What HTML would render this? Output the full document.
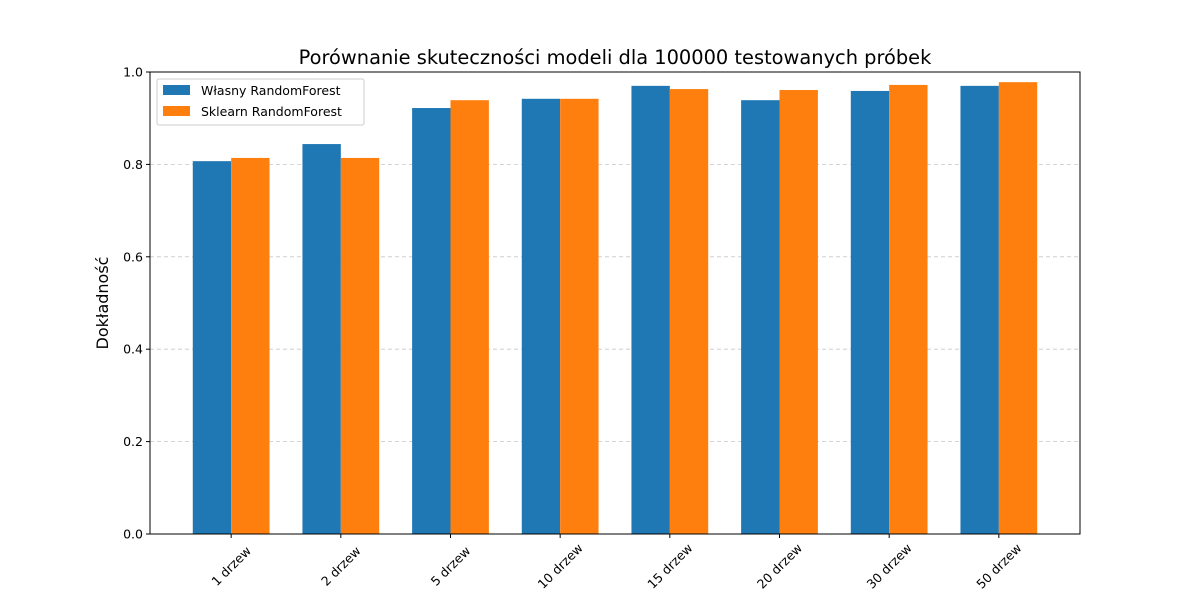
<!DOCTYPE html>
<html><head><meta charset="utf-8"><style>body{margin:0;background:#fff}svg{display:block;font-family:"DejaVu Sans","Liberation Sans",sans-serif}</style></head>
<body>
<svg id="chart" width="1200" height="600" xmlns="http://www.w3.org/2000/svg">
<text x="615" y="64" text-anchor="middle" font-size="19.4">Porównanie skuteczności modeli dla 100000 testowanych próbek</text>
<g id="grid"></g><g id="bars"></g><g id="axes"></g>
<text transform="translate(108,303) rotate(-90)" text-anchor="middle" font-size="16">Dokładność</text>
<g>
<rect x="157" y="79" width="207" height="46" fill="#fff" stroke="#ccc" rx="2"/>
<rect x="163" y="85" width="27" height="10" fill="#1f77b4"/>
<text x="201" y="95" font-size="12.5">Własny RandomForest</text>
<rect x="163" y="106" width="27" height="10" fill="#ff7f0e"/>
<text x="201" y="116" font-size="12.5">Sklearn RandomForest</text>
</g>
</svg>
<script>
const categories=["1 drzew","2 drzew","5 drzew","10 drzew","15 drzew","20 drzew","30 drzew","50 drzew"];
const ownValues=[0.807,0.844,0.922,0.942,0.970,0.939,0.959,0.970];
const sklearnValues=[0.814,0.814,0.939,0.942,0.963,0.961,0.972,0.978];
const yTicks=[0,0.2,0.4,0.6,0.8,1.0];
const yTickLabels=["0.0","0.2","0.4","0.6","0.8","1.0"];
const L=150,R=1080,T=72,B=534;
const xMin=-0.74,xMax=categories.length-1+0.74;
const x=i=>L+(i-xMin)/(xMax-xMin)*(R-L);
const y=v=>B-v*(B-T);
const bw=0.35*(R-L)/(xMax-xMin);
const NS="http://www.w3.org/2000/svg";
function mk(tag,attrs,parent){const e=document.createElementNS(NS,tag);for(const k in attrs)e.setAttribute(k,attrs[k]);parent.appendChild(e);return e;}
const grid=document.getElementById('grid'),bars=document.getElementById('bars'),axes=document.getElementById('axes');
yTicks.forEach((t,i)=>{
 if(t>0&&t<1){const g=mk('line',{x1:L,x2:R,y1:y(t),y2:y(t),stroke:'#b0b0b0','stroke-dasharray':'4,3','stroke-width':0.8,opacity:0.7},grid);
 
 }
 const tk=mk('line',{x1:L-4,x2:L,y1:y(t),y2:y(t),stroke:'#000'},axes);
 
 
 const lb=mk('text',{x:L-7,y:y(t)+4.5,'text-anchor':'end','font-size':12.5},axes);lb.textContent=yTickLabels[i];
 
 
});
categories.forEach((c,i)=>{
 const b1=mk('rect',{x:x(i)-bw,y:y(ownValues[i]),width:bw,height:B-y(ownValues[i]),fill:'#1f77b4'},bars);
 
 
 const b2=mk('rect',{x:x(i),y:y(sklearnValues[i]),width:bw,height:B-y(sklearnValues[i]),fill:'#ff7f0e'},bars);
 
 
 const tk=mk('line',{x1:x(i),x2:x(i),y1:B,y2:B+4,stroke:'#000'},axes);
 
 
 const lb=mk('text',{transform:`translate(${x(i)},${B+32}) rotate(-45)`,'text-anchor':'middle','dominant-baseline':'central','font-size':12.5},axes);lb.textContent=c;
 
 
});
const fr=mk('rect',{x:L,y:T,width:R-L,height:B-T,fill:'none',stroke:'#000','stroke-width':1},axes);


</script>
</body></html>
